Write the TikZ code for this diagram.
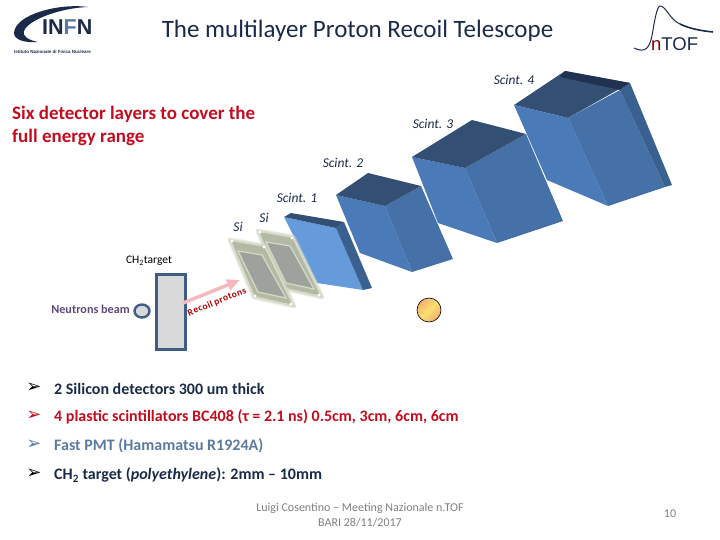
\documentclass[tikz,border=0pt]{standalone}
\usepackage{fontspec}
\setmainfont{Carlito}
\newfontfamily\symfont{DejaVu Sans}
\newfontfamily\logofont{Liberation Sans}
\definecolor{scint-top}{HTML}{344F74}
\definecolor{scint-left}{HTML}{4A7AB8}
\definecolor{scint-right}{HTML}{4671A8}
\definecolor{scint-edge}{HTML}{3A6090}
\definecolor{scint-light}{HTML}{659ADB}
\definecolor{slide-navy}{HTML}{1B2A49}
\definecolor{slide-red}{HTML}{C00E20}
\definecolor{slide-steel}{HTML}{5A7AA0}
\definecolor{slide-frame}{HTML}{3F5C85}
\definecolor{slide-purple}{HTML}{5F497A}
\definecolor{slide-grey}{HTML}{7F7F7F}
\definecolor{si-frame}{HTML}{B4B9A4}
\definecolor{si-rim}{HTML}{D5D9C8}
\definecolor{si-window}{HTML}{9DA29C}
\definecolor{sphere-peach}{HTML}{F6AE72}
\definecolor{sphere-yellow}{HTML}{F8E070}
\definecolor{recoil-pink}{HTML}{F6B8BE}
\usetikzlibrary{arrows.meta,shapes.geometric}

\begin{document}
\begin{tikzpicture}[
  x=1pt, y=-1pt,
  every node/.style={inner sep=0pt},
  scinttag/.style={font=\fontsize{13.5}{15}\selectfont\itshape, text=slide-navy},
  bulletmark/.style={font=\symfont\fontsize{18}{20}\selectfont, anchor=center},
  bullettext/.style={font=\fontsize{16}{19}\selectfont\bfseries, anchor=west},
  target/.style={rectangle, draw=slide-frame, line width=3pt, fill=black!15, minimum width=29pt, minimum height=75pt},
  beamspot/.style={ellipse, draw=slide-frame, line width=2.4pt, fill=black!15, minimum width=15pt, minimum height=13pt},
  recoil/.style={-{Triangle[length=13pt,width=11pt]}, line width=3.5pt, color=recoil-pink}
]
  \useasboundingbox (0,0) rectangle (720,540);

  % logos
  \fill[slide-navy] (88,7) .. controls (60,3) and (15,14) .. (14,33) .. controls (14,40) and (25,43) .. (38,42)
    .. controls (28,40) and (22,36) .. (24,31) .. controls (28,20) and (60,8) .. (88,7);
  \node[font=\logofont\fontsize{21.5}{22}\selectfont\bfseries, text=slide-navy, anchor=west] (infn) at (42,27) {IN\textcolor{slide-steel}{F}N};
  \node[font=\logofont\fontsize{4.5}{5}\selectfont\bfseries, text=slide-navy, anchor=west] (infn-sub) at (14,52) {Istituto Nazionale di Fisica Nucleare};
  \draw[slide-navy, line width=1pt] (634,48) .. controls (645,53) and (650,50) .. (653,30) .. controls (656,12) and (658,6) .. (660,6)
    .. controls (666,6) and (670,20) .. (680,24);
  \draw[slide-navy, line width=1.6pt] (680,24) .. controls (690,29) and (703,31) .. (713,32);
  \node[font=\logofont\fontsize{18.5}{19}\selectfont, text=slide-navy, anchor=west] (ntof) at (651,44) {\textcolor{red!50!black}{n}TOF};

  \node[font=\fontsize{25}{29}\selectfont, text=slide-navy] (title) at (357.5,30.5) {The multilayer Proton Recoil Telescope};
  \node[font=\fontsize{19}{23}\selectfont\bfseries, text=slide-red, anchor=north west, align=left] (range) at (12,106) {Six detector layers to cover the\\full energy range};

  % Scint. 4
  \fill[scint-top] (514,105) -- (565,71) -- (630,83) -- (568,118) -- cycle;
  \fill[slide-navy!80!scint-top] (565,71) -- (630,83) -- (620,90) -- (560,77) -- cycle;
  \fill[scint-left] (514,105) -- (568,118) -- (608,206) -- (547,180) -- cycle;
  \fill[scint-right] (568,118) -- (620,90) -- (665,187) -- (608,206) -- cycle;
  \fill[scint-edge] (620,90) -- (630,83) -- (672,185) -- (665,187) -- cycle;
  % Scint. 3
  \fill[scint-left] (412,157) -- (465,168) -- (497,243) -- (438,223) -- cycle;
  \fill[scint-right] (465,168) -- (526,134) -- (563,221) -- (497,243) -- cycle;
  \fill[scint-top] (412,157) -- (472,120) -- (526,134) -- (465,168) -- cycle;
  % Scint. 2
  \fill[scint-left] (336,195) -- (385,206) -- (412,272) -- (360,253) -- cycle;
  \fill[scint-right] (385,206) -- (421,186) -- (453,259) -- (412,272) -- cycle;
  \fill[scint-top] (336,195) -- (368,173) -- (421,186) -- (385,206) -- cycle;
  % Scint. 1
  \fill[scint-light] (284,217) -- (336,228) -- (363,290) -- (317,283) -- cycle;
  \fill[scint-edge] (336,228) -- (344,222) -- (372,288) -- (363,290) -- cycle;
  \fill[scint-top] (284,217) -- (291,213) -- (344,222) -- (336,228) -- cycle;

  % Si panels, the far one first
  \foreach \dx/\dy in {28/-9, 0/0} {
    \begin{scope}[shift={(\dx,\dy)}]
      \draw[si-rim, line width=5pt, line join=round, opacity=0.5] (230,240) -- (265,246) -- (294,306) -- (254,297) -- cycle;
      \draw[si-rim, line width=2pt, fill=si-frame] (230,240) -- (265,246) -- (294,306) -- (254,297) -- cycle;
      \draw[si-rim, line width=1.2pt, fill=si-window] (238,251) -- (262,255) -- (286,298) -- (258,292) -- cycle;
      \foreach \bx/\by in {232/241, 264/247, 255/296, 291/304}
        \fill[white] (\bx,\by) circle (1.6pt);
    \end{scope}
  }

  \node[scinttag] (scint4) at (514,80) {Scint. 4};
  \node[scinttag] (scint3) at (433,124) {Scint. 3};
  \node[scinttag] (scint2) at (343,163) {Scint. 2};
  \node[scinttag] (scint1) at (297,198) {Scint. 1};
  \node[scinttag] (si1) at (238,227) {Si};
  \node[scinttag] (si2) at (264,218) {Si};

  \node[font=\fontsize{11.5}{14}\selectfont, text=black] (ch2) at (149,261) {CH\textsubscript{2}target};
  \node[target] (ch2-box) at (171,311.5) {};
  \node[beamspot] (beam) at (142,311) {};
  \node[font=\fontsize{12.2}{14}\selectfont\bfseries, text=slide-purple, anchor=east] (beam-tag) at (130,309) {Neutrons beam};
  \node[circle, draw=black, line width=0.6pt, minimum width=24pt, left color=sphere-peach, right color=sphere-peach, middle color=sphere-yellow, shading angle=45] (sphere) at (429,310) {};

  \coordinate (recoil-a) at (183,303);
  \coordinate (recoil-b) at (240,280);
  \draw[recoil] (recoil-a) -- (recoil-b);
  \node[font=\fontsize{9.5}{12}\selectfont\bfseries, text=red!70!black, rotate=22] (recoil-tag) at (217,302) {R\kern.5pt e\kern.5pt c\kern.5pt o\kern.5pt i\kern.5pt l\kern2pt p\kern.5pt r\kern.5pt o\kern.5pt t\kern.5pt o\kern.5pt n\kern.5pt s};

  \node[bulletmark, text=black] (mark1) at (34,388) {➢};
  \node[bullettext, text=slide-navy] (item1) at (54,389) {2 Silicon detectors 300 um thick};
  \node[bulletmark, text=slide-red] (mark2) at (34,416) {➢};
  \node[bullettext, text=slide-red] (item2) at (54,417) {4 plastic scintillators BC408 (τ = 2.1 ns) 0.5cm, 3cm, 6cm, 6cm};
  \node[bulletmark, text=slide-steel] (mark3) at (34,445) {➢};
  \node[bullettext, text=slide-steel] (item3) at (54,446) {Fast PMT (Hamamatsu R1924A)};
  \node[bulletmark, text=black] (mark4) at (34,474) {➢};
  \node[bullettext, text=slide-navy] (item4) at (54,475) {CH\textsubscript{2} target (\textit{polyethylene}): 2mm -- 10mm};

  \node[font=\fontsize{12}{15}\selectfont, text=slide-grey, align=center] (footer) at (360,515.5) {Luigi Cosentino -- Meeting Nazionale n.TOF\\BARI 28/11/2017};
  \node[font=\fontsize{12}{15}\selectfont, text=slide-grey] (page) at (670,514) {10};
\end{tikzpicture}
\end{document}
